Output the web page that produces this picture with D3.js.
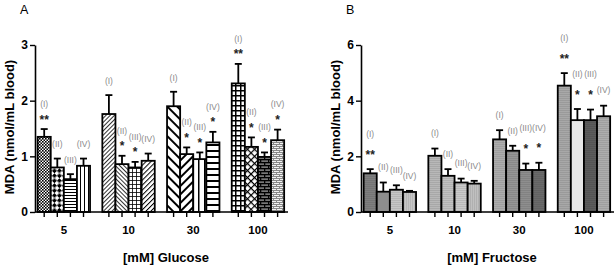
<!DOCTYPE html>
<html>
<head>
<meta charset="utf-8">
<script src="https://cdn.jsdelivr.net/npm/d3@7"></script>
<style>
  body { margin: 0; background: #fff; }
  svg text { font-family: "Liberation Sans", Arial, sans-serif; }
</style>
</head>
<body>
<div id="chart"></div>
<script>
// values
const GROUPS = ['5', '10', '30', '100'];
const SERIES = ['(I)', '(II)', '(III)', '(IV)'];

const glucoseMean = [[1.35, 0.80, 0.59, 0.83], [1.76, 0.86, 0.80, 0.92], [1.90, 1.04, 0.95, 1.25], [2.31, 1.17, 0.99, 1.29]];
const glucoseErr  = [[0.14, 0.16, 0.09, 0.13], [0.34, 0.15, 0.10, 0.13], [0.26, 0.12, 0.12, 0.19], [0.35, 0.17, 0.08, 0.19]];
const glucoseStars = [['**', '', '', ''], ['', '*', '*', ''], ['', '*', '*', '*'], ['**', '*', '*', '*']];

const fructoseMean = [[1.39, 0.73, 0.80, 0.72], [2.02, 1.30, 1.06, 1.02], [2.61, 2.20, 1.51, 1.51], [4.54, 3.30, 3.30, 3.44]];
const fructoseErr  = [[0.15, 0.33, 0.16, 0.04], [0.26, 0.24, 0.14, 0.10], [0.33, 0.18, 0.23, 0.26], [0.45, 0.40, 0.38, 0.38]];
const fructoseStars = [['**', '', '', ''], ['', '', '', ''], ['', '', '*', '*'], ['**', '*', '*', '']];

const glucoseTicks = [0, 1, 2, 3];
const fructoseTicks = [0, 2, 4, 6];

const W = 616, H = 268;
const svg = d3.select('#chart').append('svg').attr('width', W).attr('height', H);
const defs = svg.append('defs');

function pat(id, w, h, bg, rot) {
  const p = defs.append('pattern').attr('id', id)
    .attr('patternUnits', 'userSpaceOnUse').attr('width', w).attr('height', h);
  if (rot) p.attr('patternTransform', `rotate(${rot})`);
  p.append('rect').attr('width', w).attr('height', h).attr('fill', bg);
  return p;
}
function lines(id, period, lw, rot, bg = '#fff', col = '#000') {
  const p = pat(id, period, period, bg, rot);
  p.append('rect').attr('width', lw).attr('height', period).attr('fill', col);
}
function grid(id, period, lw, rot) {
  const p = pat(id, period, period, '#fff', rot);
  p.append('rect').attr('width', lw).attr('height', period).attr('fill', '#000');
  p.append('rect').attr('width', period).attr('height', lw).attr('fill', '#000');
}

// panel A fills (black on white)
{
  const p1 = pat('a1', 3, 3, '#fff');
  p1.append('rect').attr('width', 1.6).attr('height', 1.6).attr('fill', '#000');
  p1.append('rect').attr('x', 1.5).attr('y', 1.5).attr('width', 1.5).attr('height', 1.5).attr('fill', '#000');
  const p2 = pat('a2', 7, 7, '#fff', 45);
  p2.append('rect').attr('width', 3.5).attr('height', 3.5).attr('fill', '#000');
  p2.append('rect').attr('x', 3.5).attr('y', 3.5).attr('width', 3.5).attr('height', 3.5).attr('fill', '#000');
  lines('a3', 3, 1, 90);
  lines('a4', 4, 1, 0);
  lines('a5', 3, 0.8, 45);
  lines('a6', 3, 0.8, -45);
  grid('a7', 4, 0.8);
  lines('a8', 3.5, 1, 45);
  lines('a9', 7, 2, -45);
  lines('a10', 6, 2, 45);
  lines('a11', 6, 1.5, 0);
  lines('a12', 6, 2, 90);
  grid('a13', 5, 1.5);
  grid('a14', 5, 1.2, 45);
  const p15 = pat('a15', 8, 6, '#777');
  p15.append('rect').attr('width', 8).attr('height', 1.3).attr('fill', '#000');
  p15.append('rect').attr('y', 3).attr('width', 8).attr('height', 1.3).attr('fill', '#000');
  p15.append('rect').attr('width', 1.3).attr('height', 3).attr('fill', '#000');
  p15.append('rect').attr('x', 4).attr('y', 3).attr('width', 1.3).attr('height', 3).attr('fill', '#000');
  const p16 = pat('a16', 6, 4, '#f2f2f2');
  p16.append('rect').attr('width', 6).attr('height', 1).attr('fill', '#888');
  p16.append('rect').attr('y', 2).attr('width', 6).attr('height', 1).attr('fill', '#888');
  p16.append('rect').attr('width', 1).attr('height', 2).attr('fill', '#888');
  p16.append('rect').attr('x', 3).attr('y', 2).attr('width', 1).attr('height', 2).attr('fill', '#888');
}
const fillA = [['a1', 'a2', 'a3', 'a4'], ['a5', 'a6', 'a7', 'a8'], ['a9', 'a10', 'a11', 'a12'], ['a13', 'a14', 'a15', 'a16']];

// panel B fills (greys with a fine line texture)
const greyB = [
  [['#7f7f7f', 'h'], ['#8e8e8e', ''], ['#c6c6c6', 'h'], ['#c6c6c6', 'v']],
  [['#b8b8b8', 'h'], ['#c2c2c2', 'h'], ['#cacaca', 'h'], ['#c0c0c0', 'v']],
  [['#adadad', 'h'], ['#969696', 'h'], ['#8e8e8e', 'h'], ['#6a6a6a', 'h']],
  [['#a8a8a8', 'h'], ['#e8e8e8', ''], ['#5c5c5c', 'h'], ['#adadad', 'h']]
];
const fillB = greyB.map((row, gi) => row.map(([c, dir], si) => {
  const id = `b${gi}${si}`;
  if (!dir) return null;
  const dark = d3.color(c).darker(0.35).formatHex();
  lines(id, 2, 0.7, dir === 'h' ? 90 : 0, c, dark);
  return id;
}));

function drawPanel(cfg) {
  const { axisX, letter, ymax, ticks, mean, err, stars, fill, xTitle, offs } = cfg;
  const y0 = 212, yTop = 45;
  const y = d3.scaleLinear().domain([0, ymax]).range([y0, yTop]);
  const x0 = d3.scaleBand().domain(GROUPS).range([axisX - 3.5, axisX + 255.3])
    .paddingInner(0.19).paddingOuter(0.095);
  const x1 = d3.scaleBand().domain(SERIES).range([0, x0.bandwidth()]);
  const g = svg.append('g');

  const cells = [];
  GROUPS.forEach((grp, gi) => SERIES.forEach((s, si) => cells.push({
    grp, s, gi, si, v: mean[gi][si], e: err[gi][si], star: stars[gi][si],
    cx: x0(grp) + x1(s) + x1.bandwidth() / 2
  })));

  // bars
  g.selectAll('rect.bar').data(cells).join('rect').attr('class', 'bar')
    .attr('x', d => x0(d.grp) + x1(d.s))
    .attr('y', d => y(d.v))
    .attr('width', x1.bandwidth())
    .attr('height', d => y0 - y(d.v))
    .attr('fill', d => fill(d.gi, d.si))
    .attr('stroke', '#000').attr('stroke-width', 1.8);

  // error bars (upper only)
  g.selectAll('line.err').data(cells).join('line').attr('class', 'err')
    .attr('x1', d => d.cx).attr('x2', d => d.cx)
    .attr('y1', d => y(d.v)).attr('y2', d => y(d.v + d.e))
    .attr('stroke', '#000').attr('stroke-width', 1.8);
  g.selectAll('line.cap').data(cells).join('line').attr('class', 'cap')
    .attr('x1', d => d.cx - 3.5).attr('x2', d => d.cx + 3.5)
    .attr('y1', d => y(d.v + d.e)).attr('y2', d => y(d.v + d.e))
    .attr('stroke', '#000').attr('stroke-width', 1.8);

  // annotations
  g.selectAll('text.lab').data(cells).join('text').attr('class', 'lab')
    .attr('x', d => d.cx)
    .attr('y', d => y(d.v + d.e) - (d.star ? offs.labStar : offs.lab) + 2.8)
    .attr('text-anchor', 'middle').attr('font-size', 8.5).attr('fill', '#8a8a8a')
    .text(d => d.s);
  g.selectAll('text.star').data(cells.filter(d => d.star)).join('text').attr('class', 'star')
    .attr('x', d => d.cx)
    .attr('y', d => y(d.v + d.e) - offs.star + 6.5)
    .attr('text-anchor', 'middle').attr('font-size', 12).attr('font-weight', 'bold').attr('fill', '#222')
    .text(d => d.star);

  // y axis
  const yAxis = g.append('g').attr('transform', `translate(${axisX},0)`)
    .call(d3.axisLeft(y).tickValues(ticks).tickFormat(d3.format('d'))
      .tickSize(5).tickSizeOuter(0).tickPadding(2));
  yAxis.select('.domain').attr('stroke-width', 1.6);
  yAxis.selectAll('.tick line').attr('stroke-width', 1.4);
  yAxis.selectAll('.tick text').attr('font-size', 12).attr('font-weight', 'bold')
    .attr('font-family', '"Liberation Sans", Arial, sans-serif').attr('fill', '#000');

  // x axis: baseline, tick under every bar, group labels
  g.append('line').attr('x1', axisX).attr('x2', axisX + 253).attr('y1', y0).attr('y2', y0)
    .attr('stroke', '#000').attr('stroke-width', 1.6);
  g.selectAll('line.xt').data(cells).join('line').attr('class', 'xt')
    .attr('x1', d => d.cx).attr('x2', d => d.cx).attr('y1', y0).attr('y2', y0 + 5)
    .attr('stroke', '#000').attr('stroke-width', 1.4);
  g.selectAll('text.xl').data(GROUPS).join('text').attr('class', 'xl')
    .attr('x', d => x0(d) + x0.bandwidth() / 2).attr('y', 234)
    .attr('text-anchor', 'middle').attr('font-size', 11.5).attr('font-weight', 'bold')
    .text(d => d);

  g.append('text').attr('x', axisX + 131).attr('y', 261.5)
    .attr('text-anchor', 'middle').attr('font-size', 13).attr('font-weight', 'bold')
    .text(xTitle);
  g.append('text').attr('transform', `translate(${axisX - 21},127) rotate(-90)`)
    .attr('text-anchor', 'middle').attr('font-size', 13).attr('font-weight', 'bold')
    .text('MDA (nmol/mL blood)');
  g.append('text').attr('x', axisX - 15).attr('y', 14)
    .attr('font-size', 12.5).text(letter);
}

drawPanel({
  axisX: 35, letter: 'A', ymax: 3, ticks: glucoseTicks,
  mean: glucoseMean, err: glucoseErr, stars: glucoseStars,
  fill: (gi, si) => `url(#${fillA[gi][si]})`,
  xTitle: '[mM] Glucose', offs: { star: 12, labStar: 25, lab: 14 }
});
drawPanel({
  axisX: 361, letter: 'B', ymax: 6, ticks: fructoseTicks,
  mean: fructoseMean, err: fructoseErr, stars: fructoseStars,
  fill: (gi, si) => fillB[gi][si] ? `url(#${fillB[gi][si]})` : greyB[gi][si][0],
  xTitle: '[mM] Fructose', offs: { star: 17, labStar: 35, lab: 15 }
});
</script>
</body>
</html>
